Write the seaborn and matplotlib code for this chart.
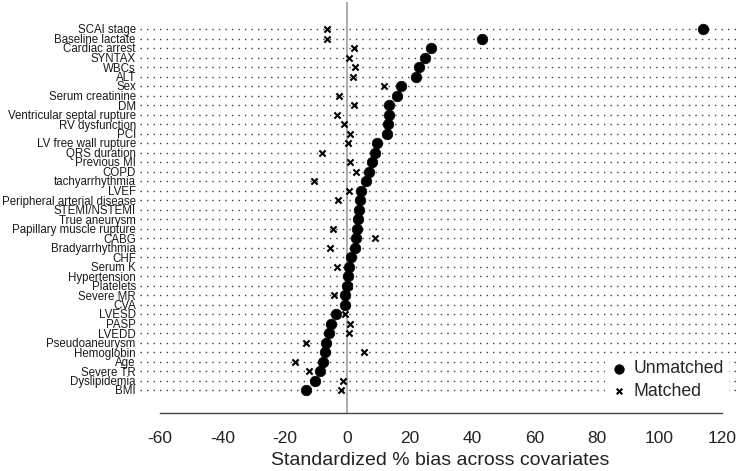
import matplotlib
matplotlib.use("Agg")
import matplotlib.pyplot as plt
import seaborn as sns
import numpy as np
import pandas as pd

covariates = ["SCAI stage", "Baseline lactate", "Cardiac arrest", "SYNTAX", "WBCs", "ALT", "Sex",
              "Serum creatinine", "DM", "Ventricular septal rupture", "RV dysfunction", "PCI",
              "LV free wall rupture", "QRS duration", "Previous MI", "COPD", "tachyarrhythmia", "LVEF",
              "Peripheral arterial disease", "STEMI/NSTEMI", "True aneurysm", "Papillary muscle rupture",
              "CABG", "Bradyarrhythmia", "CHF", "Serum K", "Hypertension", "Platelets", "Severe MR",
              "CVA", "LVESD", "PASP", "LVEDD", "Pseudoaneurysm", "Hemoglobin", "Age", "Severe TR",
              "Dyslipidemia", "BMI"]

unmatched = [114.0, 43.2, 26.8, 25.0, 23.0, 22.0, 17.1, 15.8, 13.5, 13.2, 12.9, 12.7, 9.5, 8.8,
             8.0, 7.0, 6.1, 4.5, 4.0, 3.7, 3.4, 3.1, 2.7, 2.4, 1.1, 0.5, 0.2, -0.1, -0.6, -0.8,
             -3.7, -5.1, -6.0, -6.7, -7.2, -7.8, -8.6, -10.2, -13.1]

matched = [-6.6, -6.6, 2.0, 0.4, 2.4, 1.8, 11.7, -2.7, 2.0, -3.3, -1.2, 0.8, 0.2, -8.1, 0.8, 2.9,
           -10.7, 0.4, -3.0, 3.5, 3.0, -4.6, 9.0, -5.6, 1.0, -3.3, 0.4, 0.4, -4.4, -0.6, -0.8,
           0.8, 0.4, -13.1, 5.4, -16.9, -12.4, -1.4, -1.9]

xticks = [-60, -40, -20, 0, 20, 40, 60, 80, 100, 120]
xlabel = "Standardized % bias across covariates"

sns.set_style("white")
plt.rcParams['font.family'] = ['Liberation Sans', 'DejaVu Sans']

n = len(covariates)
df = pd.DataFrame({"covariate": covariates,
                   "pos": np.arange(n)[::-1].astype(float),
                   "Unmatched": unmatched,
                   "Matched": matched})

W, H = 740, 471
fig = plt.figure(figsize=(W / 100, H / 100), dpi=100)
left_px, right_px, top_px, bot_px = 140, 740, 2, 413
ax = fig.add_axes([left_px / W, 1 - bot_px / H, (right_px - left_px) / W, (bot_px - top_px) / H])

px_per_unit = (722 - 160) / 180.0
xmin = -60 - (160 - left_px) / px_per_unit
xmax = 120 + (right_px - 722) / px_per_unit
row_px = (390 - 29) / (n - 1)
ytop = (n - 1) + (29 - top_px) / row_px
ybot = ytop - (bot_px - top_px) / row_px

ax.set_xlim(xmin, xmax)
ax.set_ylim(ybot, ytop)

ax.hlines(df["pos"], xmin, xmax, colors="#3a3a3a", linewidth=1.0,
          linestyles=[(0, (1.0, 3.7))], zorder=1)
ax.axvline(0, color="#a6a6a6", lw=1.3, zorder=1.5)

sns.scatterplot(data=df, x="Unmatched", y="pos", ax=ax, marker="o", s=58, color="black",
                edgecolor="black", linewidth=0.5, label="Unmatched", zorder=3)
sns.scatterplot(data=df, x="Matched", y="pos", ax=ax, marker="x", s=20, color="black",
                linewidth=1.5, label="Matched", zorder=4)

ax.set_yticks(df["pos"])
ax.set_yticklabels(df["covariate"], fontsize=8.3, color="#1a1a1a")
ax.tick_params(axis="y", length=0, pad=3)

ax.set_xticks(xticks)
ax.set_xticklabels([str(t) for t in xticks], fontsize=12.5, color="#222222")
ax.tick_params(axis="x", length=6, width=1, color="#444444", pad=7)
ax.set_xlabel(xlabel, fontsize=14, color="#222222", labelpad=4)
ax.set_ylabel("")

for s in ["left", "top", "right"]:
    ax.spines[s].set_visible(False)
ax.spines["bottom"].set_bounds(-60, 120)
ax.spines["bottom"].set_color("#444444")
ax.spines["bottom"].set_linewidth(1.0)

leg = ax.legend(loc="lower right", bbox_to_anchor=(729 / W, 1 - 405 / H),
                bbox_transform=fig.transFigure, borderaxespad=0, frameon=True,
                facecolor="white", edgecolor="none", framealpha=1, fontsize=12.7,
                handletextpad=0.3, borderpad=0.3, labelspacing=0.3, handlelength=1.0,
                markerscale=0.9)
leg.set_zorder(10)

fig.savefig("out.png", dpi=100)
